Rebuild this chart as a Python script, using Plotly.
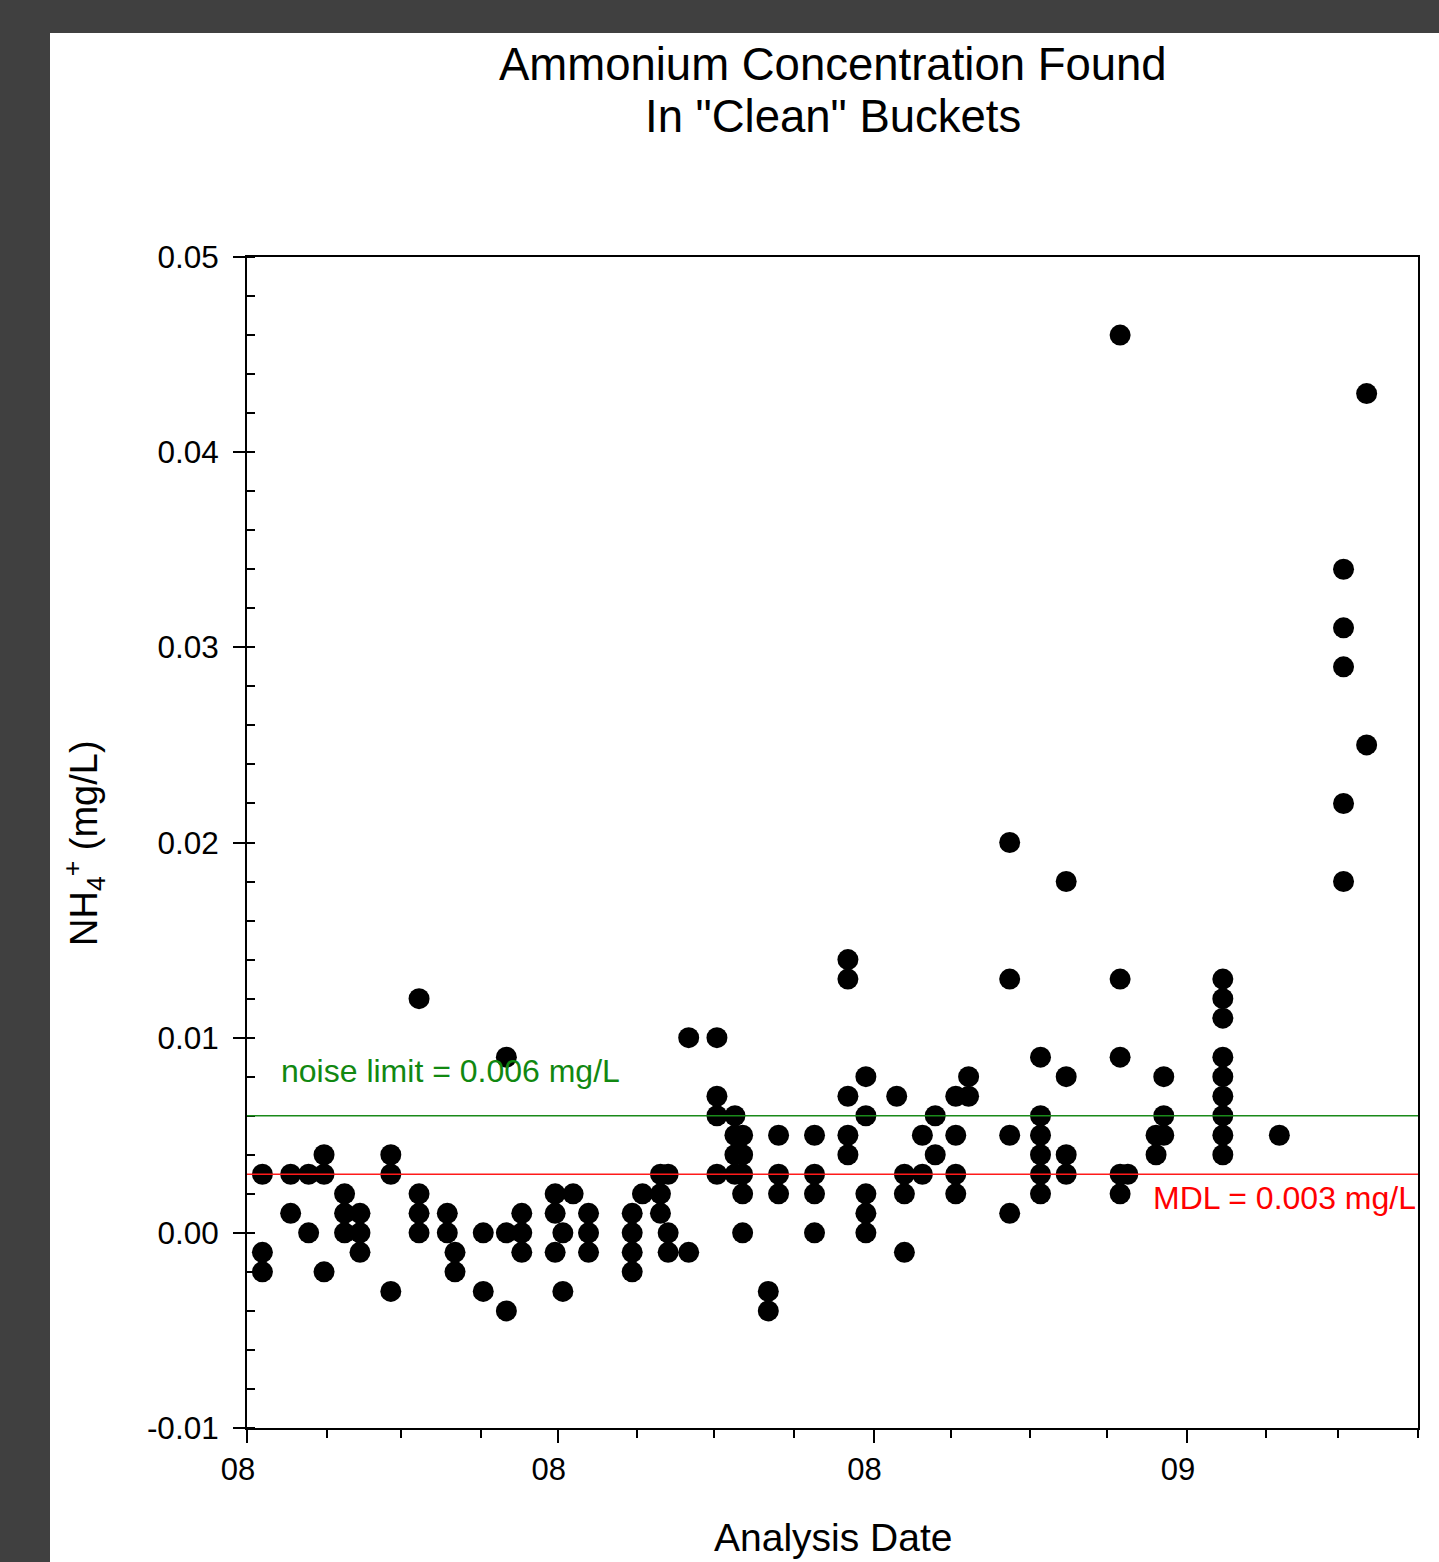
import plotly.graph_objects as go

# ---- data ----
ANALYSIS_DATES = [
    "2008-01-07", "2008-01-18", "2008-01-25", "2008-01-31", "2008-02-08",
    "2008-02-14", "2008-02-26", "2008-03-08", "2008-03-19", "2008-03-22",
    "2008-04-02", "2008-04-11", "2008-04-17", "2008-04-30", "2008-05-03",
    "2008-05-07", "2008-05-13", "2008-05-30", "2008-06-03", "2008-06-10",
    "2008-06-13", "2008-06-21", "2008-07-02", "2008-07-09", "2008-07-12",
    "2008-07-22", "2008-07-26", "2008-08-09", "2008-08-22", "2008-08-29",
    "2008-09-10", "2008-09-13", "2008-09-20", "2008-09-25", "2008-10-03",
    "2008-10-08", "2008-10-24", "2008-11-05", "2008-11-15", "2008-12-06",
    "2008-12-09", "2008-12-20", "2008-12-23", "2009-01-15", "2009-02-06",
    "2009-03-03", "2009-03-12",
]
NH4_MG_L = [
    [0.003, -0.001, -0.002], [0.003, 0.001], [0.003, 0.000], [0.004, 0.003, -0.002],
    [0.002, 0.001, 0.000], [0.001, 0.000, -0.001], [0.004, 0.003, -0.003],
    [0.012, 0.002, 0.001, 0.000], [0.001, 0.000], [-0.001, -0.002],
    [0.000, -0.003], [0.009, 0.000, -0.004], [0.001, 0.000, -0.001],
    [0.002, 0.001, -0.001], [0.000, -0.003], [0.002], [0.001, 0.000, -0.001],
    [0.001, 0.000, -0.001, -0.002], [0.002], [0.003, 0.002, 0.001],
    [0.003, 0.000, -0.001], [0.010, -0.001], [0.010, 0.007, 0.006, 0.003],
    [0.006, 0.005, 0.004, 0.003], [0.005, 0.004, 0.003, 0.002, 0.000],
    [-0.003, -0.004], [0.005, 0.003, 0.002], [0.005, 0.003, 0.002, 0.000],
    [0.014, 0.013, 0.007, 0.005, 0.004], [0.008, 0.006, 0.002, 0.001, 0.000],
    [0.007], [0.003, 0.002, -0.001], [0.005, 0.003], [0.006, 0.004],
    [0.007, 0.005, 0.003, 0.002], [0.008, 0.007], [0.020, 0.013, 0.005, 0.001],
    [0.009, 0.006, 0.005, 0.004, 0.003, 0.002], [0.018, 0.008, 0.004, 0.003],
    [0.046, 0.013, 0.009, 0.003, 0.002], [0.003], [0.005, 0.004],
    [0.008, 0.006, 0.005],
    [0.013, 0.012, 0.011, 0.009, 0.008, 0.007, 0.006, 0.005, 0.004],
    [0.005], [0.034, 0.031, 0.029, 0.022, 0.018], [0.043, 0.025],
]
NOISE_LIMIT = 0.006
MDL = 0.003
Y_TICK_VALUES = [-0.01, 0.00, 0.01, 0.02, 0.03, 0.04, 0.05]
Y_TICK_LABELS = ["-0.01", "0.00", "0.01", "0.02", "0.03", "0.04", "0.05"]
X_RANGE = ["2008-01-01", "2009-04-01"]

x_pts, y_pts = [], []
for d, vals in zip(ANALYSIS_DATES, NH4_MG_L):
    for v in vals:
        x_pts.append(d)
        y_pts.append(v)

FONT = "Liberation Sans, Arial, sans-serif"
fig = go.Figure()
fig.add_trace(go.Scatter(
    x=x_pts, y=y_pts, mode="markers",
    marker=dict(color="black", size=21, line=dict(width=0)),
    showlegend=False, hoverinfo="x+y",
))

W, H = 1439, 1562
L, R, T, B = 247, 21, 257, 134
pw, ph = W - L - R, H - T - B

def px_x(px):
    return (px - L) / pw

def px_y(py):
    return (H - B - py) / ph

fig.update_layout(
    width=W, height=H,
    margin=dict(l=L, r=R, t=T, b=B),
    paper_bgcolor="#404040",
    plot_bgcolor="white",
    font=dict(family=FONT, color="black", size=31),
    shapes=[
        dict(type="rect", xref="paper", yref="paper", x0=px_x(50), x1=px_x(1460),
             y0=px_y(1600), y1=px_y(33), fillcolor="white", line=dict(width=0),
             layer="below"),
        dict(type="line", xref="paper", yref="y", x0=0, x1=1, y0=NOISE_LIMIT, y1=NOISE_LIMIT,
             line=dict(color="#1a8a1a", width=1.6), layer="above"),
        dict(type="line", xref="paper", yref="y", x0=0, x1=1, y0=MDL, y1=MDL,
             line=dict(color="#ff1a1a", width=1.6), layer="above"),
    ],
    annotations=[
        dict(text="Ammonium Concentration Found", xref="paper", yref="paper",
             x=0.5, y=px_y(64), xanchor="center", yanchor="middle", showarrow=False,
             font=dict(size=45.5, family=FONT)),
        dict(text='In "Clean" Buckets', xref="paper", yref="paper",
             x=0.5, y=px_y(116), xanchor="center", yanchor="middle", showarrow=False,
             font=dict(size=45.5, family=FONT)),
        dict(text="NH<sub>4</sub><sup>+</sup> (mg/L)", xref="paper", yref="paper",
             x=px_x(84), y=px_y(843), xanchor="center", yanchor="middle",
             textangle=-90, showarrow=False, font=dict(size=38, family=FONT)),
        dict(text="Analysis Date", xref="paper", yref="paper",
             x=px_x(833), y=px_y(1537), xanchor="center", yanchor="middle",
             showarrow=False, font=dict(size=39, family=FONT)),
        dict(text="noise limit = 0.006 mg/L", xref="paper", yref="paper",
             x=px_x(279), y=px_y(1071), xanchor="left", yanchor="middle",
             showarrow=False, font=dict(size=32, color="#118811", family=FONT)),
        dict(text="MDL = 0.003 mg/L", xref="paper", yref="paper",
             x=1.0, y=px_y(1198), xanchor="right", yanchor="middle",
             showarrow=False, font=dict(size=32, color="#ff0000", family=FONT)),
    ],
)

fig.update_xaxes(
    type="date", range=X_RANGE, tick0="2008-01-01", dtick="M4", tickformat="%y",
    ticks="outside", ticklen=13, tickwidth=1.6, tickcolor="black",
    showline=True, linecolor="black", linewidth=2, mirror=True,
    showgrid=False, zeroline=False, ticklabelshift=-9,
    tickfont=dict(size=31, family=FONT),
    minor=dict(dtick="M1", tick0="2008-01-01", ticks="outside", ticklen=8,
               tickwidth=1.6, tickcolor="black", showgrid=False),
)
fig.update_yaxes(
    range=[-0.01, 0.05], tickmode="array", tickvals=Y_TICK_VALUES, ticktext=Y_TICK_LABELS,
    ticks="outside", ticklen=12, tickwidth=1.6, tickcolor="black",
    showline=True, linecolor="black", linewidth=2, mirror=True,
    showgrid=False, zeroline=False, ticklabelstandoff=8,
    tickfont=dict(size=31.5, family=FONT),
    minor=dict(dtick=0.002, tick0=0, ticks="inside", ticklen=8,
               tickwidth=1.6, tickcolor="black", showgrid=False),
)

fig.write_html("out.html", config={"displayModeBar": False},
               post_script="document.body.style.margin='0';")
